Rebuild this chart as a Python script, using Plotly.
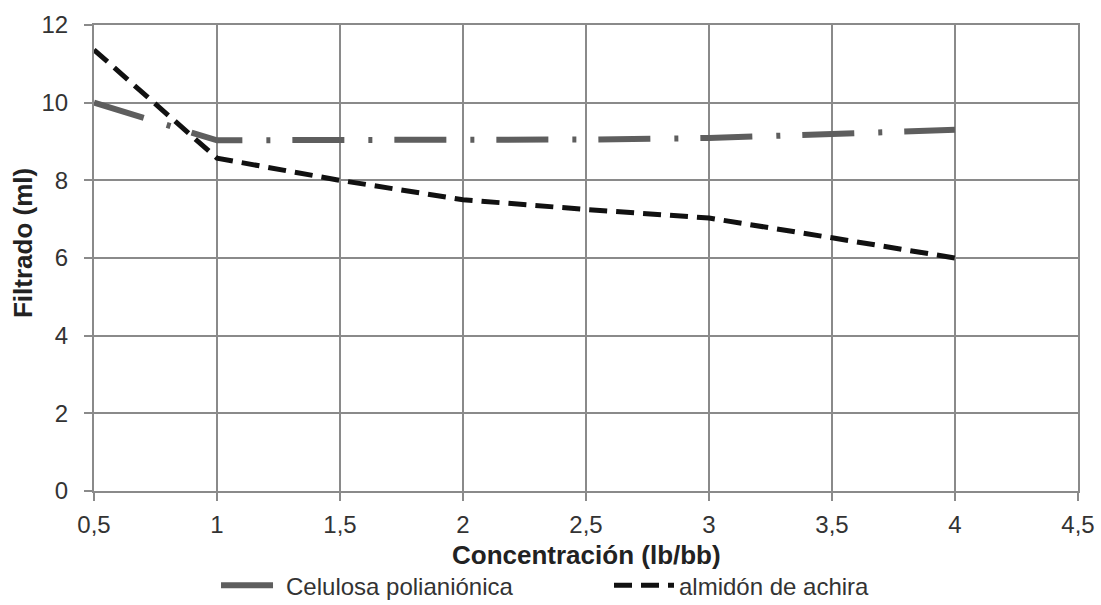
import plotly.graph_objects as go

x_conc = [0.5, 1, 1.5, 2, 2.5, 3, 3.5, 4]
celulosa = [10.0, 9.03, 9.04, 9.04, 9.05, 9.09, 9.19, 9.3]
almidon = [11.36, 8.57, 8.0, 7.5, 7.25, 7.03, 6.52, 6.0]

x_ticks = [0.5, 1, 1.5, 2, 2.5, 3, 3.5, 4, 4.5]
x_tick_labels = ["0,5", "1", "1,5", "2", "2,5", "3", "3,5", "4", "4,5"]
y_ticks = [0, 2, 4, 6, 8, 10, 12]
y_tick_labels = ["0", "2", "4", "6", "8", "10", "12"]

x_title = "Concentración (lb/bb)"
y_title = "Filtrado (ml)"

grid = "#8a8a8a"
font = "Liberation Sans, Arial, sans-serif"

fig = go.Figure()
fig.add_trace(go.Scatter(
    x=x_conc, y=celulosa, mode="lines", name="Celulosa polianiónica",
    line=dict(color="#5e5e5e", width=6, dash="52px,24px,4px,22px"),
))
fig.add_trace(go.Scatter(
    x=x_conc, y=almidon, mode="lines", name="almidón de achira",
    line=dict(color="#111111", width=5, dash="18px,9px"),
))

fig.update_layout(
    width=1101, height=605,
    margin=dict(l=94, r=23, t=25, b=114),
    paper_bgcolor="white", plot_bgcolor="white",
    font=dict(family=font, size=24, color="#333333"),
    separators=", ",
    showlegend=True,
    legend=dict(orientation="h", x=0.124, xanchor="left",
                yref="container", y=0.032, yanchor="middle",
                entrywidth=318, entrywidthmode="pixels",
                font=dict(size=24, color="#333333"), itemwidth=60,
                bgcolor="rgba(0,0,0,0)"),
    annotations=[
        dict(text="<b>" + x_title + "</b>", xref="paper", yref="paper",
             x=0.5, y=-0.137, xanchor="center", yanchor="middle", showarrow=False,
             font=dict(size=26, color="#222222")),
        dict(text="<b>" + y_title + "</b>", xref="paper", yref="paper",
             x=-0.0722, y=0.532, xanchor="center", yanchor="middle", showarrow=False,
             textangle=-90, font=dict(size=26, color="#222222")),
    ],
)
fig.update_xaxes(
    range=[0.5, 4.5], tickvals=x_ticks, ticktext=x_tick_labels,
    showgrid=True, gridcolor=grid, gridwidth=2,
    showline=True, mirror=True, linecolor=grid, linewidth=2,
    zeroline=False, ticks="outside", ticklen=8, tickwidth=2, tickcolor=grid,
    ticklabelstandoff=3, automargin=False,
    tickfont=dict(size=24, color="#333333"),
)
fig.update_yaxes(
    range=[0, 12], tickvals=y_ticks, ticktext=y_tick_labels,
    showgrid=True, gridcolor=grid, gridwidth=2,
    showline=True, mirror=True, linecolor=grid, linewidth=2,
    zeroline=False, ticks="outside", ticklen=8, tickwidth=2, tickcolor=grid,
    ticklabelstandoff=11, automargin=False,
    tickfont=dict(size=24, color="#333333"),
)

fig.write_html("out.html")
